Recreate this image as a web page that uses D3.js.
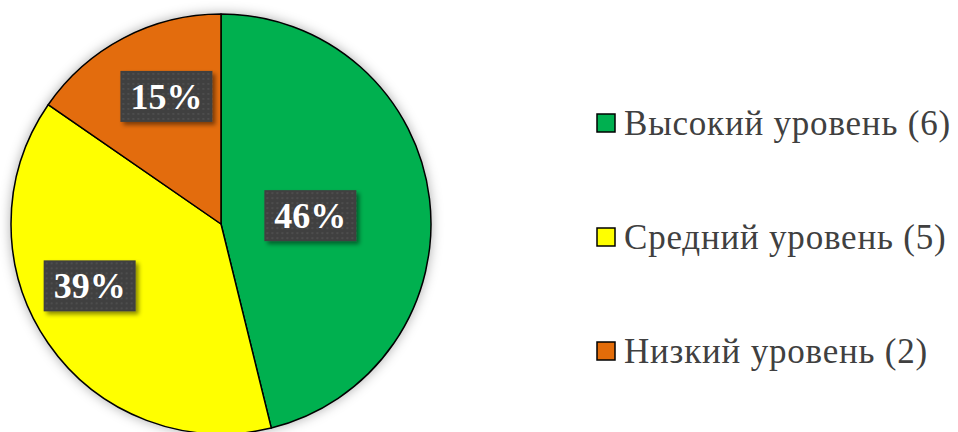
<!DOCTYPE html>
<html>
<head>
<meta charset="utf-8">
<script src="https://cdn.jsdelivr.net/npm/d3@7"></script>
<style>
    body { margin: 0; background: #fff; }
    svg { display: block; }
    .serif { font-family: 'Times New Roman', Times, 'Liberation Serif', 'DejaVu Serif', serif; }
</style>
</head>
<body>
<svg class="chart"></svg>
<script>
var categories = ['Высокий уровень', 'Средний уровень', 'Низкий уровень'];
var counts = [6, 5, 2];
var colors = ['#00b050', '#ffff00', '#e36c09'];

var width = 958, height = 432;
var cx = 221, cy = 224, radius = 210;

// label placement: radius along slice centroid and a nudge in px
var labelRadius = [90, 145, 139];
var labelNudge = [[0, 3], [-12, -20], [10, -4]];

var svg = d3.select('.chart')
    .attr('width', width)
    .attr('height', height);

var defs = svg.append('defs');

var shadow = defs.append('filter').attr('id', 'pieShadow')
    .attr('x', '-20%').attr('y', '-20%').attr('width', '140%').attr('height', '140%');
shadow.append('feGaussianBlur').attr('in', 'SourceAlpha').attr('stdDeviation', 6).attr('result', 'blur');
shadow.append('feFlood').attr('flood-color', '#000').attr('flood-opacity', 0.32);
shadow.append('feComposite').attr('in2', 'blur').attr('operator', 'in').attr('result', 'sh');
var merge = shadow.append('feMerge');
merge.append('feMergeNode').attr('in', 'sh');
merge.append('feMergeNode').attr('in', 'SourceGraphic');

var boxShadow = defs.append('filter').attr('id', 'boxShadow')
    .attr('x', '-20%').attr('y', '-20%').attr('width', '150%').attr('height', '160%');
boxShadow.append('feDropShadow')
    .attr('dx', 3).attr('dy', 3).attr('stdDeviation', 2)
    .attr('flood-color', '#000').attr('flood-opacity', 0.45);

var dots = defs.append('pattern').attr('id', 'dots')
    .attr('patternUnits', 'userSpaceOnUse')
    .attr('width', 5).attr('height', 5);
dots.append('rect').attr('width', 5).attr('height', 5).attr('fill', '#404040');
dots.append('rect').attr('x', 1).attr('y', 1).attr('width', 2).attr('height', 2).attr('fill', '#4d4d4d');

var total = d3.sum(counts);

// percentages rounded so they add up to 100 (largest remainder)
var raw = counts.map(function(d){ return d / total * 100; });
var pct = raw.map(Math.floor);
var left = 100 - d3.sum(pct);
d3.range(raw.length)
    .sort(function(a, b){ return (raw[b] - pct[b]) - (raw[a] - pct[a]); })
    .slice(0, left)
    .forEach(function(i){ pct[i] += 1; });

var pie = d3.pie().sort(null).value(function(d){ return d; });
var arcs = pie(counts);

var arc = d3.arc().innerRadius(0).outerRadius(radius);

var panel = svg.append('g')
    .attr('transform', 'translate(' + [cx, cy] + ')');

panel.append('g')
    .attr('filter', 'url(#pieShadow)')
    .selectAll('path')
    .data(arcs)
    .enter().append('path')
    .attr('d', arc)
    .attr('fill', function(d, i){ return colors[i]; })
    .attr('stroke', '#000')
    .attr('stroke-width', 1.5)
    .attr('stroke-linejoin', 'round');

var labels = panel.selectAll('g.label')
    .data(arcs)
    .enter().append('g').classed('label', true)
    .attr('transform', function(d, i){
        var c = d3.arc().innerRadius(labelRadius[i]).outerRadius(labelRadius[i]).centroid(d);
        return 'translate(' + [c[0] + labelNudge[i][0], c[1] + labelNudge[i][1]] + ')';
    });

labels.append('rect')
    .attr('x', -46)
    .attr('y', -26)
    .attr('width', 92)
    .attr('height', 51)
    .attr('fill', 'url(#dots)')
    .attr('filter', 'url(#boxShadow)');

labels.append('text')
    .classed('serif', true)
    .attr('text-anchor', 'middle')
    .attr('y', 12)
    .attr('font-weight', 'bold')
    .attr('font-size', 36)
    .attr('fill', '#fff')
    .text(function(d, i){ return pct[i] + '%'; });

var legend = svg.append('g')
    .attr('transform', 'translate(597, 0)');

var rows = legend.selectAll('g.row')
    .data(categories)
    .enter().append('g').classed('row', true)
    .attr('transform', function(d, i){ return 'translate(0,' + (123 + i * 114) + ')'; });

rows.append('rect')
    .attr('x', 0)
    .attr('y', -9)
    .attr('width', 18)
    .attr('height', 18)
    .attr('fill', function(d, i){ return colors[i]; })
    .attr('stroke', '#000')
    .attr('stroke-width', 1.5);

rows.append('text')
    .classed('serif', true)
    .attr('x', 27)
    .attr('y', 12)
    .attr('font-size', 35)
    .attr('letter-spacing', 0.8)
    .attr('fill', '#404040')
    .text(function(d, i){ return d + ' (' + counts[i] + ')'; });
</script>
</body>
</html>
